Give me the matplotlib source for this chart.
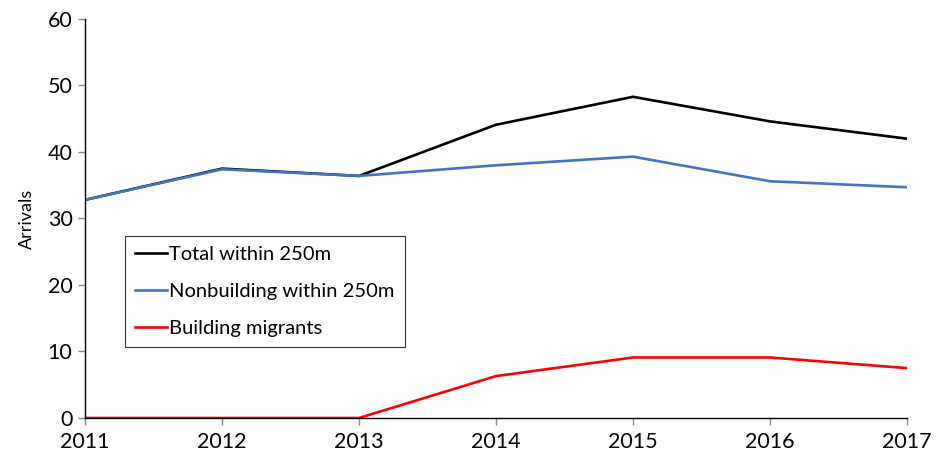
import matplotlib.pyplot as plt

plt.rcParams['font.family'] = ['Lato', 'DejaVu Sans']

years = [2011, 2012, 2013, 2014, 2015, 2016, 2017]
total = [32.8, 37.5, 36.4, 44.1, 48.3, 44.6, 42.0]
nonbuilding = [32.8, 37.4, 36.4, 38.0, 39.3, 35.6, 34.7]
building = [0, 0, 0, 6.3, 9.1, 9.1, 7.5]

fig = plt.figure(figsize=(9.47, 4.61), dpi=100)
ax = fig.add_axes([0.0898, 0.0933, 0.868, 0.8655])

ax.plot(years, total, color='black', lw=1.9, label='Total within 250m')
ax.plot(years, nonbuilding, color='#4472C4', lw=1.9, label='Nonbuilding within 250m')
ax.plot(years, building, color='#FF0000', lw=1.9, label='Building migrants')

ax.set_xlim(2011, 2017)
ax.set_ylim(0, 60)
ax.set_xticks(years)
ax.set_yticks(range(0, 61, 10))
ax.tick_params(labelsize=15.5, length=5, color='#888888', width=1)
ax.tick_params(axis='x', pad=5)
ax.tick_params(axis='y', pad=4)
for s in ['top', 'right']:
    ax.spines[s].set_visible(False)
for s in ['left', 'bottom']:
    ax.spines[s].set_linewidth(1)
ax.set_ylabel('Arrivals', fontsize=13, labelpad=9)

leg = ax.legend(loc='upper left', bbox_to_anchor=(0.0487, 0.457), fontsize=14.5,
                frameon=True, fancybox=False, edgecolor='black', handlelength=1.6,
                handletextpad=0.1, labelspacing=1.0, borderpad=0.5, borderaxespad=0)
leg.get_frame().set_linewidth(0.8)

plt.savefig('out.png', dpi=100)
